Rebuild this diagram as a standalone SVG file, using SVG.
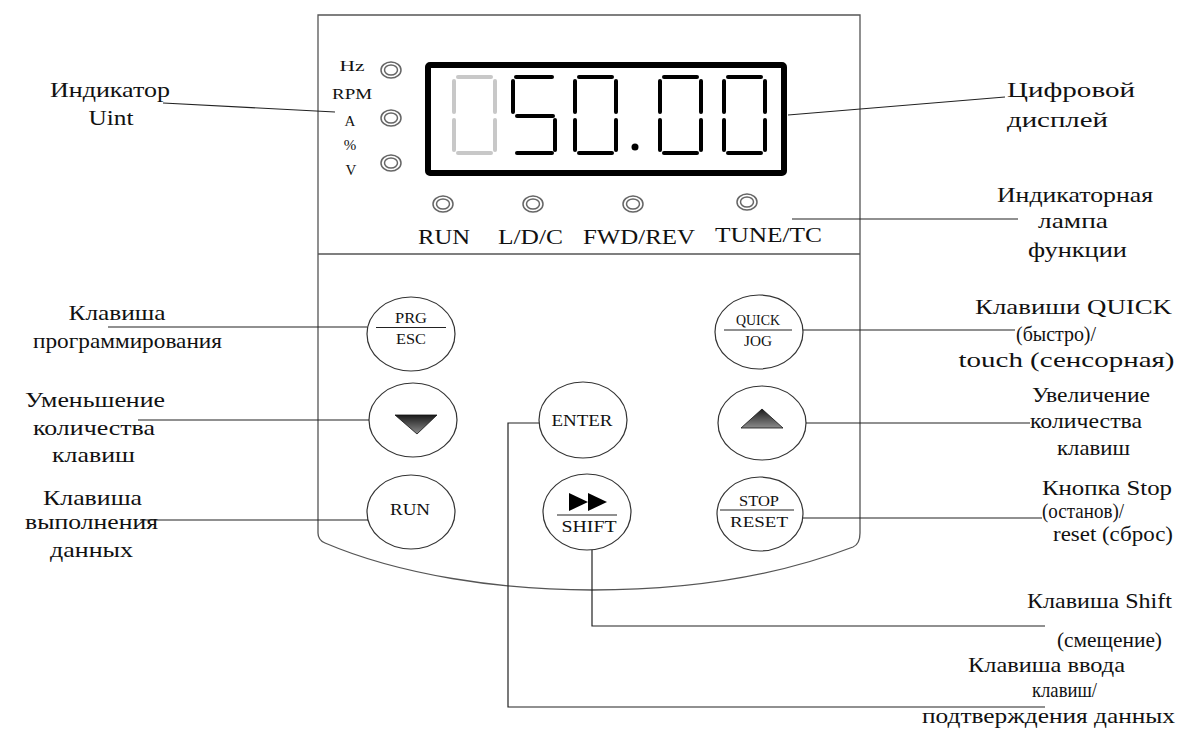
<svg xmlns="http://www.w3.org/2000/svg" xmlns:xlink="http://www.w3.org/1999/xlink" width="1177" height="734" viewBox="0 0 1177 734">
<style>
text{font-family:"Liberation Serif","Times New Roman","DejaVu Serif",serif;fill:#111;text-anchor:middle}
.lbl{font-size:21px}
.ind{font-size:15px}
.lt{font-size:20px}
.bt{font-size:15px}
.bt2{font-size:16px}
.panel{fill:none;stroke:#555;stroke-width:1.3}
.btn{fill:#fff;stroke:#333;stroke-width:1.2}
.frac{stroke:#222;stroke-width:1.2}
.lamp ellipse{fill:#fff;stroke:#666;stroke-width:1.5}
.seg{stroke-width:4;stroke-linecap:round;fill:none}
#connectors path{fill:none;stroke:#222;stroke-width:1.2}
</style>
<defs>
<linearGradient id="tri" x1="0" y1="0" x2="0" y2="1">
<stop offset="0" stop-color="#1a1a1a"/>
<stop offset="1" stop-color="#8c8c8c"/>
</linearGradient>
<g id="dig0" class="seg">
<line x1="6" y1="77" x2="39" y2="77"/>
<line x1="2" y1="81" x2="2" y2="112"/>
<line x1="43" y1="81" x2="43" y2="112"/>
<line x1="2" y1="120" x2="2" y2="150"/>
<line x1="43" y1="120" x2="43" y2="150"/>
<line x1="6" y1="153" x2="39" y2="153"/>
</g>
<g id="dig5" class="seg">
<line x1="4" y1="77" x2="40" y2="77"/>
<line x1="1" y1="81" x2="1" y2="112"/>
<line x1="5" y1="116" x2="41" y2="116"/>
<line x1="43" y1="120" x2="43" y2="150"/>
<line x1="5" y1="153" x2="40" y2="153"/>
</g>
<g id="lampShape" class="lamp">
<ellipse cx="0" cy="0" rx="10" ry="8"/>
<ellipse cx="0" cy="0" rx="6.5" ry="5"/>
</g>
</defs>
<rect width="1177" height="734" fill="#fff"/>

<g id="panel">
<path class="panel" d="M318,15 H860 V533 Q860,544 853,547 C780,575 690,590 592,590 C500,590 400,575 325,543 Q318,540 318,533 Z"/>
<line class="panel" x1="318" y1="254" x2="860" y2="254"/>
</g>

<g id="unit-indicators">
<text class="ind" x="352" y="71" textLength="25" lengthAdjust="spacingAndGlyphs">Hz</text>
<text class="ind" x="352" y="99" textLength="40" lengthAdjust="spacingAndGlyphs">RPM</text>
<text class="ind" x="350" y="126">A</text>
<text class="ind" x="350" y="150">%</text>
<text class="ind" x="351" y="175">V</text>
<use href="#lampShape" x="391" y="70"/>
<use href="#lampShape" x="391" y="118"/>
<use href="#lampShape" x="391" y="163"/>
</g>

<g id="display">
<rect x="428" y="65" width="356" height="108" rx="2" fill="#fff" stroke="#000" stroke-width="6"/>
<use href="#dig0" x="452" stroke="#c8c8c8"/>
<use href="#dig5" x="512" stroke="#000"/>
<use href="#dig0" x="573" stroke="#000"/>
<circle cx="635" cy="147" r="3.5" fill="#000"/>
<use href="#dig0" x="658" stroke="#000"/>
<use href="#dig0" x="722" stroke="#000"/>
</g>

<g id="function-lamps">
<use href="#lampShape" x="443" y="204"/>
<use href="#lampShape" x="533" y="204"/>
<use href="#lampShape" x="633" y="204"/>
<use href="#lampShape" x="747" y="202"/>
<text class="lt" x="444" y="244" textLength="52" lengthAdjust="spacingAndGlyphs">RUN</text>
<text class="lt" x="530.5" y="244" textLength="65" lengthAdjust="spacingAndGlyphs">L/D/C</text>
<text class="lt" x="639" y="244" textLength="112" lengthAdjust="spacingAndGlyphs">FWD/REV</text>
<text class="lt" x="768.5" y="242" textLength="107" lengthAdjust="spacingAndGlyphs">TUNE/TC</text>
</g>

<g id="btn-prg">
<ellipse class="btn" cx="411" cy="334" rx="44" ry="37"/>
<text class="bt" x="411" y="323" textLength="32" lengthAdjust="spacingAndGlyphs">PRG</text>
<line class="frac" x1="376" y1="327.5" x2="446" y2="327.5"/>
<text class="bt" x="411" y="344" textLength="30" lengthAdjust="spacingAndGlyphs">ESC</text>
</g>
<g id="btn-quick">
<ellipse class="btn" cx="759" cy="332" rx="44" ry="37"/>
<text class="bt" x="758" y="325" textLength="44" lengthAdjust="spacingAndGlyphs">QUICK</text>
<line class="frac" x1="724" y1="330" x2="792" y2="330"/>
<text class="bt" x="758" y="346" textLength="28" lengthAdjust="spacingAndGlyphs">JOG</text>
</g>
<g id="btn-down">
<ellipse class="btn" cx="413" cy="420" rx="44" ry="37"/>
<polygon points="395,415 437,415 417,434" fill="url(#tri)" stroke="#111" stroke-width="0.8"/>
</g>
<g id="btn-enter">
<ellipse class="btn" cx="583" cy="420" rx="44" ry="38"/>
<text class="bt2" x="582" y="426" textLength="61" lengthAdjust="spacingAndGlyphs">ENTER</text>
</g>
<g id="btn-up">
<ellipse class="btn" cx="762" cy="423" rx="44" ry="37"/>
<polygon points="741,428 783,428 762,409" fill="url(#tri)" stroke="#111" stroke-width="0.8"/>
</g>
<g id="btn-run">
<ellipse class="btn" cx="411" cy="512" rx="44" ry="37"/>
<text class="bt2" x="410" y="515" textLength="40" lengthAdjust="spacingAndGlyphs">RUN</text>
</g>
<g id="btn-shift">
<ellipse class="btn" cx="587" cy="512" rx="44" ry="38"/>
<polygon points="569,493 588,502 569,511" fill="#000"/>
<polygon points="588,493 607,502 588,511" fill="#000"/>
<line class="frac" x1="557" y1="515" x2="617" y2="515"/>
<text class="bt2" x="589" y="532" textLength="55" lengthAdjust="spacingAndGlyphs">SHIFT</text>
</g>
<g id="btn-stop">
<ellipse class="btn" cx="760" cy="514" rx="43" ry="37"/>
<text class="bt" x="759" y="506" textLength="40" lengthAdjust="spacingAndGlyphs">STOP</text>
<line class="frac" x1="720" y1="510" x2="794" y2="510"/>
<text class="bt" x="759" y="527" textLength="58" lengthAdjust="spacingAndGlyphs">RESET</text>
</g>

<g id="connectors">
<path d="M163,103 L335,112"/>
<path d="M788,115 L1005,97"/>
<path d="M792,219 H1018"/>
<path d="M108,327 H367"/>
<path d="M803,330 H1015"/>
<path d="M138,420 H369"/>
<path d="M806,423 H1030"/>
<path d="M539,423 H508 V707 H1045"/>
<path d="M140,520 H368"/>
<path d="M803,518 H1042"/>
<path d="M592,550 V626 H1045"/>
</g>

<g id="label-unit">
<text class="lbl" x="110" y="97" textLength="120" lengthAdjust="spacingAndGlyphs">Индикатор</text>
<text class="lbl" x="111" y="125" textLength="45" lengthAdjust="spacingAndGlyphs">Uint</text>
</g>
<g id="label-prg">
<text class="lbl" x="117" y="320" textLength="97" lengthAdjust="spacingAndGlyphs">Клавиша</text>
<text class="lbl" x="127.5" y="348" textLength="189" lengthAdjust="spacingAndGlyphs">программирования</text>
</g>
<g id="label-down">
<text class="lbl" x="95" y="407" textLength="140" lengthAdjust="spacingAndGlyphs">Уменьшение</text>
<text class="lbl" x="94" y="435" textLength="122" lengthAdjust="spacingAndGlyphs">количества</text>
<text class="lbl" x="93.5" y="462" textLength="83" lengthAdjust="spacingAndGlyphs">клавиш</text>
</g>
<g id="label-run">
<text class="lbl" x="92.5" y="505" textLength="99" lengthAdjust="spacingAndGlyphs">Клавиша</text>
<text class="lbl" x="91.5" y="529" textLength="133" lengthAdjust="spacingAndGlyphs">выполнения</text>
<text class="lbl" x="91.5" y="557" textLength="83" lengthAdjust="spacingAndGlyphs">данных</text>
</g>
<g id="label-display">
<text class="lbl" x="1071" y="97" textLength="128" lengthAdjust="spacingAndGlyphs">Цифровой</text>
<text class="lbl" x="1057.5" y="127" textLength="101" lengthAdjust="spacingAndGlyphs">дисплей</text>
</g>
<g id="label-lamp">
<text class="lbl" x="1075" y="202" textLength="156" lengthAdjust="spacingAndGlyphs">Индикаторная</text>
<text class="lbl" x="1073" y="228" textLength="70" lengthAdjust="spacingAndGlyphs">лампа</text>
<text class="lbl" x="1077.5" y="257" textLength="99" lengthAdjust="spacingAndGlyphs">функции</text>
</g>
<g id="label-quick">
<text class="lbl" x="1073.5" y="314" textLength="197" lengthAdjust="spacingAndGlyphs">Клавиши QUICK</text>
<text class="lbl" x="1056" y="341" textLength="80" lengthAdjust="spacingAndGlyphs">(быстро)/</text>
<text class="lbl" x="1066.5" y="367" textLength="216" lengthAdjust="spacingAndGlyphs">touch (сенсорная)</text>
</g>
<g id="label-up">
<text class="lbl" x="1091" y="402" textLength="118" lengthAdjust="spacingAndGlyphs">Увеличение</text>
<text class="lbl" x="1086" y="428" textLength="112" lengthAdjust="spacingAndGlyphs">количества</text>
<text class="lbl" x="1093.5" y="455" textLength="73" lengthAdjust="spacingAndGlyphs">клавиш</text>
</g>
<g id="label-stop">
<text class="lbl" x="1107" y="495" textLength="130" lengthAdjust="spacingAndGlyphs">Кнопка Stop</text>
<text class="lbl" x="1083" y="518" textLength="82" lengthAdjust="spacingAndGlyphs">(останов)/</text>
<text class="lbl" x="1113" y="541" textLength="120" lengthAdjust="spacingAndGlyphs">reset (сброс)</text>
</g>
<g id="label-shift">
<text class="lbl" x="1099.5" y="608" textLength="145" lengthAdjust="spacingAndGlyphs">Клавиша Shift</text>
<text class="lbl" x="1109.5" y="647" textLength="105" lengthAdjust="spacingAndGlyphs">(смещение)</text>
</g>
<g id="label-enter">
<text class="lbl" x="1046.5" y="672" textLength="157" lengthAdjust="spacingAndGlyphs">Клавиша ввода</text>
<text class="lbl" x="1064.5" y="697" textLength="65" lengthAdjust="spacingAndGlyphs">клавиш/</text>
<text class="lbl" x="1048.5" y="723" textLength="253" lengthAdjust="spacingAndGlyphs">подтверждения данных</text>
</g>
</svg>
